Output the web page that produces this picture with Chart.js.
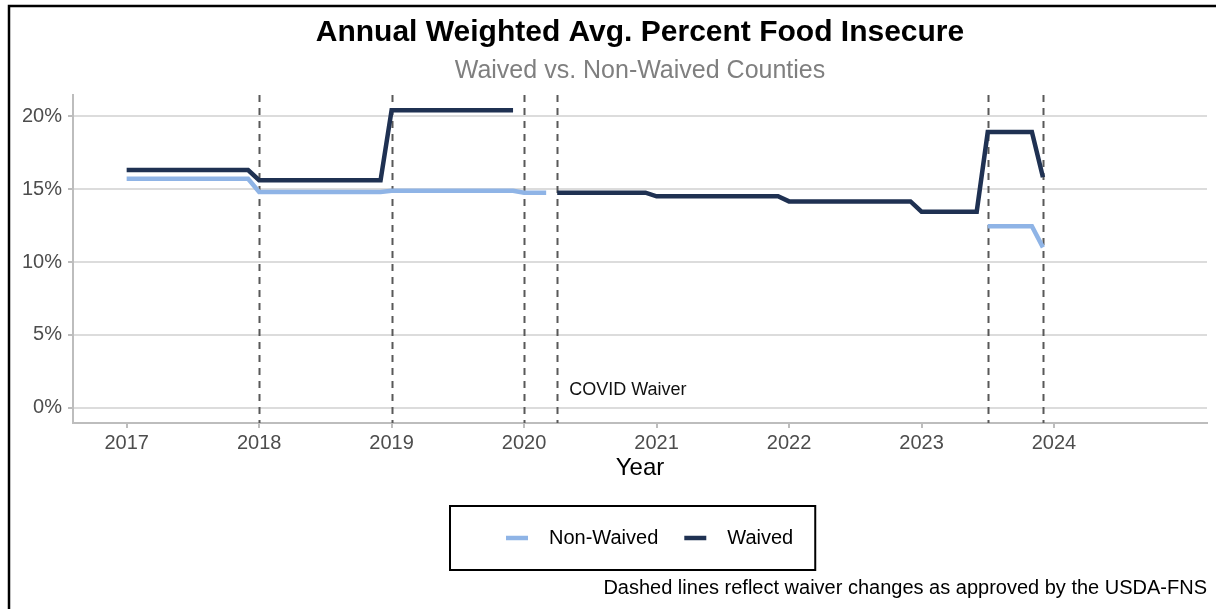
<!DOCTYPE html>
<html>
<head>
<meta charset="utf-8">
<title>Annual Weighted Avg. Percent Food Insecure</title>
<script src="https://cdn.jsdelivr.net/npm/chart.js@4.4.1/dist/chart.umd.min.js"></script>
<style>
  html, body { margin: 0; padding: 0; background: #fff; }
  #wrap { width: 1216px; height: 609px; }
</style>
</head>
<body>
<div id="wrap"><canvas id="foodChart" width="1216" height="609"></canvas></div>
<script>
// --- data: monthly weighted averages, Jan 2017 .. Dec 2023 (null = no counties in group) ---
const years = [2017, 2018, 2019, 2020, 2021, 2022, 2023];

const nonWaived = [
  15.7, 15.7, 15.7, 15.7, 15.7, 15.7, 15.7, 15.7, 15.7, 15.7, 15.7, 15.7,
  14.8, 14.8, 14.8, 14.8, 14.8, 14.8, 14.8, 14.8, 14.8, 14.8, 14.8, 14.8,
  14.88, 14.88, 14.88, 14.88, 14.88, 14.88, 14.88, 14.88, 14.88, 14.88, 14.88, 14.88,
  14.75, 14.75, 14.75, null, null, null, null, null, null, null, null, null,
  null, null, null, null, null, null, null, null, null, null, null, null,
  null, null, null, null, null, null, null, null, null, null, null, null,
  null, null, null, null, null, null, 12.45, 12.45, 12.45, 12.45, 12.45, 11.0
];

const waived = [
  16.3, 16.3, 16.3, 16.3, 16.3, 16.3, 16.3, 16.3, 16.3, 16.3, 16.3, 16.3,
  15.6, 15.6, 15.6, 15.6, 15.6, 15.6, 15.6, 15.6, 15.6, 15.6, 15.6, 15.6,
  20.4, 20.4, 20.4, 20.4, 20.4, 20.4, 20.4, 20.4, 20.4, 20.4, 20.4, 20.4,
  null, null, null, 14.75, 14.75, 14.75, 14.75, 14.75, 14.75, 14.75, 14.75, 14.75,
  14.5, 14.5, 14.5, 14.5, 14.5, 14.5, 14.5, 14.5, 14.5, 14.5, 14.5, 14.5,
  14.15, 14.15, 14.15, 14.15, 14.15, 14.15, 14.15, 14.15, 14.15, 14.15, 14.15, 14.15,
  13.45, 13.45, 13.45, 13.45, 13.45, 13.45, 18.9, 18.9, 18.9, 18.9, 18.9, 15.8
];

// waiver changes (decimal year): Jan 18, Jan 19, Jan 20, Apr 20 (COVID), Jul 23, Dec 23
const waiverDates = [2018, 2019, 2020, 2020.25, 2023.5, 2023 + 11 / 12];
const xTicks = [2017, 2018, 2019, 2020, 2021, 2022, 2023, 2024];
const yTicks = [0, 5, 10, 15, 20];

const COLORS = {
  nonWaived: '#8fb4e6',
  waived: '#1f3152',
  grid: '#dcdcdc',
  axis: '#bdbdbd',
  tickText: '#4d4d4d',
  dash: '#595959'
};
const FONT = '"Liberation Sans", Arial, sans-serif';

// month position on the year axis
const dates = years.flatMap(y => [0, 1, 2, 3, 4, 5, 6, 7, 8, 9, 10, 11].map(m => y + m / 12));
const toPoints = vals => dates.map((x, i) => ({ x: x, y: vals[i] }));

// --- plugins ---

// dashed vertical lines + COVID label, behind the series
const waiverLines = {
  id: 'waiverLines',
  beforeDatasetsDraw(chart) {
    const { ctx, chartArea, scales } = chart;
    ctx.save();
    ctx.strokeStyle = COLORS.dash;
    ctx.lineWidth = 2;
    ctx.setLineDash([7, 6]);
    waiverDates.forEach(d => {
      const x = Math.round(scales.x.getPixelForValue(d)) + 0.5;
      ctx.beginPath();
      ctx.moveTo(x, chartArea.top);
      ctx.lineTo(x, chartArea.bottom);
      ctx.stroke();
    });
    ctx.setLineDash([]);
    ctx.fillStyle = '#111';
    ctx.font = '18px ' + FONT;
    ctx.textAlign = 'left';
    ctx.textBaseline = 'middle';
    ctx.fillText('COVID Waiver', scales.x.getPixelForValue(2020.25) + 12, scales.y.getPixelForValue(1.25));
    ctx.restore();
  }
};

// frame, titles, caption and boxed legend
const chrome = {
  id: 'chrome',
  afterDraw(chart) {
    const { ctx, chartArea } = chart;
    const mid = (chartArea.left + chartArea.right) / 2;
    ctx.save();

    ctx.strokeStyle = '#000';
    ctx.lineWidth = 2.5;
    ctx.beginPath();
    ctx.moveTo(9, 609);
    ctx.lineTo(9, 6);
    ctx.lineTo(1216, 6);
    ctx.stroke();

    ctx.textAlign = 'center';
    ctx.textBaseline = 'middle';
    ctx.fillStyle = '#000';
    ctx.font = 'bold 30px ' + FONT;
    ctx.fillText('Annual Weighted Avg. Percent Food Insecure', mid, 33);
    ctx.fillStyle = '#7f7f7f';
    ctx.font = '25px ' + FONT;
    ctx.fillText('Waived vs. Non-Waived Counties', mid, 71);

    ctx.fillStyle = '#000';
    ctx.font = '20px ' + FONT;
    ctx.textAlign = 'right';
    ctx.fillText('Dashed lines reflect waiver changes as approved by the USDA-FNS', chartArea.right, 588);

    // legend
    const items = chart.data.datasets.map(ds => ({ label: ds.label, color: ds.borderColor }));
    const swatch = 22, gapText = 21, gapItem = 26, padL = 56, padR = 22;
    ctx.font = '20px ' + FONT;
    const widths = items.map(it => ctx.measureText(it.label).width);
    const inner = items.reduce((s, it, i) => s + swatch + gapText + widths[i], 0) + gapItem * (items.length - 1);
    const boxW = padL + inner + padR, boxH = 64;
    const boxX = 450, boxY = 506;
    ctx.lineWidth = 2;
    ctx.strokeStyle = '#000';
    ctx.strokeRect(boxX, boxY, boxW, boxH);
    let x = boxX + padL;
    const cy = boxY + boxH / 2;
    ctx.textAlign = 'left';
    items.forEach((it, i) => {
      ctx.strokeStyle = it.color;
      ctx.lineWidth = 4.5;
      ctx.beginPath();
      ctx.moveTo(x, cy);
      ctx.lineTo(x + swatch, cy);
      ctx.stroke();
      x += swatch + gapText;
      ctx.fillStyle = '#000';
      ctx.fillText(it.label, x, cy);
      x += widths[i] + gapItem;
    });

    ctx.restore();
  }
};

// --- chart ---
new Chart(document.getElementById('foodChart'), {
  type: 'line',
  data: {
    datasets: [
      {
        label: 'Non-Waived', data: toPoints(nonWaived),
        borderColor: COLORS.nonWaived, borderWidth: 4.5, pointRadius: 0, tension: 0, spanGaps: false
      },
      {
        label: 'Waived', data: toPoints(waived),
        borderColor: COLORS.waived, borderWidth: 4.5, pointRadius: 0, tension: 0, spanGaps: false
      }
    ]
  },
  options: {
    responsive: false,
    animation: false,
    layout: { padding: { left: 0, top: 95, right: 9, bottom: 123 } },
    plugins: { legend: { display: false }, tooltip: { enabled: false } },
    scales: {
      x: {
        type: 'linear',
        min: 2016.595,
        max: 2025.155,
        afterBuildTicks: s => { s.ticks = xTicks.map(v => ({ value: v })); },
        afterFit: s => { s.height = 63; },
        grid: { drawOnChartArea: false, drawTicks: true, tickLength: 5, color: COLORS.axis, lineWidth: 2 },
        border: { color: COLORS.axis, width: 2 },
        ticks: {
          font: { size: 20, family: FONT }, color: COLORS.tickText, padding: 3,
          maxRotation: 0, autoSkip: false, callback: v => String(v)
        },
        title: { display: true, text: 'Year', color: '#000', font: { size: 24, family: FONT }, padding: { top: 2, bottom: 3 } }
      },
      y: {
        min: -1.03,
        max: 21.44,
        afterBuildTicks: s => { s.ticks = yTicks.map(v => ({ value: v })); },
        afterFit: s => { s.width = 73; },
        grid: { color: COLORS.grid, lineWidth: 2, tickColor: COLORS.axis, tickLength: 5 },
        border: { color: COLORS.axis, width: 2 },
        ticks: { font: { size: 20, family: FONT }, color: COLORS.tickText, padding: 6, callback: v => v + '%' }
      }
    }
  },
  plugins: [waiverLines, chrome]
});
</script>
</body>
</html>
